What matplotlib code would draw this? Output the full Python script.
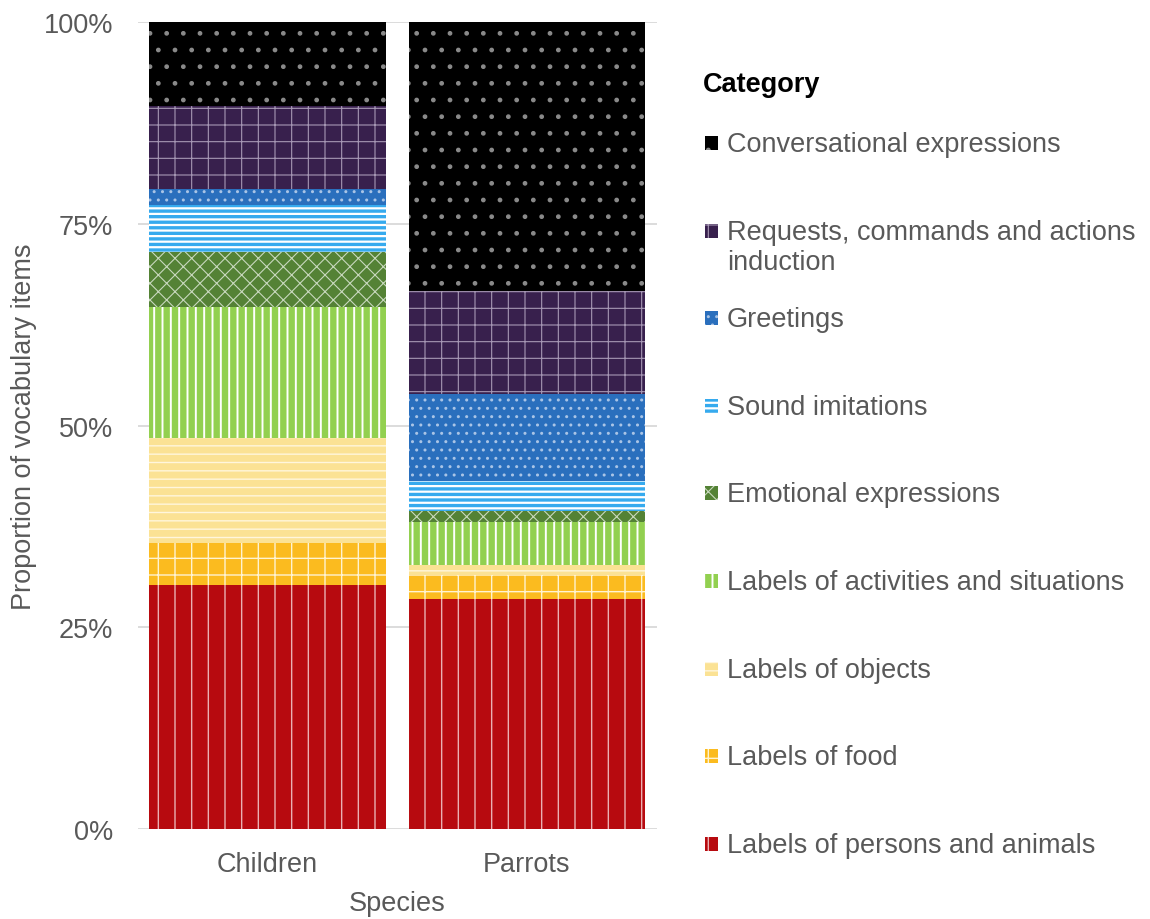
import numpy as np
import matplotlib.pyplot as plt
import matplotlib as mpl
from matplotlib.patches import Rectangle

plt.rcParams['font.family'] = ['Liberation Sans', 'DejaVu Sans']

# Vocabulary composition (%), bottom to top of each stacked bar
species = ['Children', 'Parrots']
categories = ['Labels of persons and animals', 'Labels of food', 'Labels of objects',
              'Labels of activities and situations', 'Emotional expressions', 'Sound imitations',
              'Greetings', 'Requests, commands and actions\ninduction', 'Conversational expressions']
children = [30.2, 5.2, 13.1, 16.2, 6.8, 5.8, 2.0, 10.3, 10.4]
parrots = [28.5, 3.0, 1.2, 5.3, 1.4, 3.7, 10.8, 12.8, 33.3]

# fill colour, hatch colour, hatch pattern, hatch width for each category
styles = [
    ('#b70a0f', '#eab0b2', '|', 1.0),
    ('#fbbb1f', '#fff3d0', '+', 1.0),
    ('#fbe294', '#fff6dc', '--', 1.0),
    ('#92d050', 'white', '||', 1.4),
    ('#548235', '#c8d8bd', 'xx', 0.8),
    ('#36aaee', 'white', '---', 1.6),
    ('#2a6fbd', '#a9c4e6', '..', 1.0),
    ('#38204d', '#a697b4', '+', 0.8),
    ('#000000', '#8a8a8a', '.', 1.0),
]
text_col = '#595959'

data = np.array([children, parrots])
data = data / data.sum(axis=1, keepdims=True)

fig = plt.figure(figsize=(11.5, 9.2), dpi=100)
ax = fig.add_axes([0.12, 0.0978, 0.451, 0.877])

x = np.arange(len(species))
bottom = np.zeros(len(species))
for i, cat in enumerate(categories):
    face, hcol, hatch, hlw = styles[i]
    with mpl.rc_context({'hatch.linewidth': hlw}):
        ax.bar(x, data[:, i], 0.913, bottom=bottom, color=face, edgecolor=hcol,
               hatch=hatch, linewidth=0, zorder=2)
    bottom += data[:, i]

ax.set_xlim(-0.5, 1.5)
ax.set_ylim(0, 1)
ax.set_yticks([0, 0.25, 0.5, 0.75, 1.0])
ax.set_yticklabels(['0%', '25%', '50%', '75%', '100%'])
ax.set_xticks(x)
ax.set_xticklabels(species)
ax.grid(axis='y', color='#d9d9d9', linewidth=1.3, zorder=0)
ax.set_axisbelow(True)
for s in ax.spines.values():
    s.set_visible(False)
ax.tick_params(axis='y', length=0, pad=18, labelsize=19.5, labelcolor=text_col)
ax.tick_params(axis='x', length=0, pad=16, labelsize=19.5, labelcolor=text_col)
ax.set_xlabel('Species', fontsize=19.5, color=text_col, labelpad=9)
ax.set_ylabel('Proportion of vocabulary items', fontsize=19.5, color=text_col, labelpad=5)

# legend drawn by hand so the wrapped label keeps an even row spacing
W, H = 1150, 920
fig.text(703 / W, 1 - 85 / H, 'Category', fontsize=19.5, fontweight='bold',
         color='black', ha='left', va='center')
row0, step = 144, 87.6
for j, i in enumerate(range(len(categories) - 1, -1, -1)):
    face, hcol, hatch, hlw = styles[i]
    yc = row0 + j * step
    with mpl.rc_context({'hatch.linewidth': hlw}):
        fig.add_artist(Rectangle((705 / W, 1 - (yc + 7) / H), 13 / W, 14 / H,
                                 transform=fig.transFigure, facecolor=face,
                                 edgecolor=hcol, hatch=hatch, linewidth=0))
    fig.text(727 / W, 1 - (yc - 12) / H, categories[i], fontsize=19.5, color=text_col,
             ha='left', va='top')

fig.savefig('out.png', dpi=100)
